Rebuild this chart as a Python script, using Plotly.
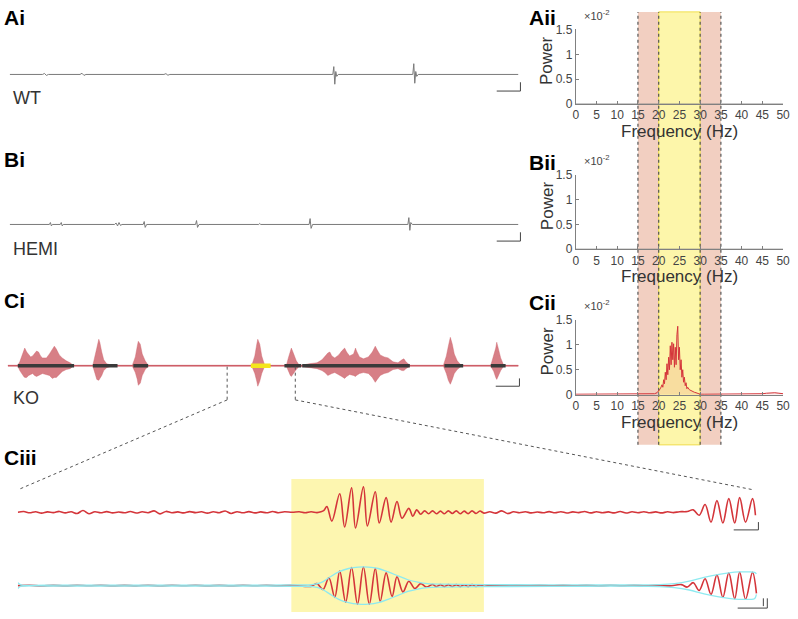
import plotly.graph_objects as go

# ---- data ----
# long recordings (time in s, amplitude in arbitrary units)
wt_t = [1, 7.6, 8.0, 8.4, 8.8, 15.2, 15.6, 16.0, 16.4, 32.2, 32.6, 33.0, 33.4,
        66.4, 66.6, 66.8, 67.0, 67.2, 67.5, 82.6, 82.8, 83.0, 83.2, 83.4, 83.7, 104]
wt_v = [0, 0, 1, -1, 0, 0, 1.2, -1, 0, 0, 0.8, -0.8, 0,
        0, 8, -10, 3, -2, 0, 0, 11, -9, 3, -2, 0, 0]

hemi_t = [1, 9.0, 9.2, 9.4, 9.6, 11.2, 11.4, 11.6, 11.8, 22.2, 22.5, 22.8, 23.1, 23.4, 23.7,
          28.0, 28.2, 28.4, 28.7, 38.6, 38.8, 39.0, 39.3, 51.4, 51.6, 51.8,
          61.6, 61.8, 62.0, 62.3, 81.6, 81.8, 82.0, 82.2, 82.5, 104]
hemi_v = [0, 0, 2, -1.5, 0, 0, 2, -1.5, 0, 0, 1.5, -1.5, 2, -1, 0,
          0, 3, -3, 0, 0, 4, -3, 0, 0, 1, 0,
          0, 6, -4, 0, 0, 7, -6, 2, 0, 0]

ko_env_t = [0.6, 2.6, 3.0, 3.4, 3.8, 4.0, 4.4, 4.8, 5.2, 5.6, 6.0, 6.4, 6.8, 7.2, 7.6, 8.4,
            9.0, 9.6, 10.0, 10.4, 11.0, 11.6, 12.4, 13.2, 13.8,
            17.8, 18.2, 18.6, 19.0, 19.2, 19.6, 20.0, 20.6, 21.6,
            25.8, 26.4, 26.8, 27.0, 27.4, 27.8, 28.4, 29.0,
            50.0, 50.6, 51.0, 51.2, 51.6, 52.0, 52.6,
            57.0, 57.4, 57.8, 58.0, 58.4, 59.0, 59.6,
            60.2, 61.6, 63.2, 64.2, 64.8, 65.4, 65.8, 66.2, 66.8, 67.6, 68.2, 68.8, 69.2, 69.8,
            70.6, 71.0, 71.2, 71.8, 72.6, 73.6, 74.4, 75.0, 75.4, 76.0, 76.8, 77.6, 78.6, 79.6,
            80.4, 80.8, 81.2, 82.0,
            88.8, 89.4, 89.8, 90.2, 90.6, 91.0, 91.6, 92.4,
            98.4, 99.0, 99.4, 99.6, 100.0, 100.4, 101.0, 104]
ko_env_top = [0.5, 0.5, 4, 10, 17, 18, 14, 11, 9, 10, 13, 15, 14, 10, 8, 8,
              12, 17, 20, 17, 11, 8, 5, 3, 0.5,
              0.5, 8, 18, 27, 24, 14, 6, 2, 0.5,
              0.5, 9, 20, 25, 22, 12, 5, 0.5,
              0.5, 10, 22, 27, 22, 10, 0.5,
              0.5, 8, 16, 18, 13, 5, 0.5,
              0.5, 2, 3, 6, 10, 13, 14, 10, 8, 11, 15, 18, 14, 10,
              12, 18, 15, 9, 7, 9, 14, 20, 16, 11, 9, 8, 4, 3,
              6, 7, 4, 0.5,
              0.5, 10, 20, 29, 22, 12, 5, 0.5,
              0.5, 10, 18, 24, 16, 8, 0.5, 0.5]
ko_env_bot = [-0.5, -0.5, -5, -8, -11, -12, -12, -10, -9, -8, -10, -11, -10, -9, -8, -9,
              -10, -13, -12, -12, -9, -6, -4, -3, -0.5,
              -0.5, -8, -14, -15, -13, -10, -5, -2, -0.5,
              -0.5, -7, -14, -20, -18, -10, -4, -0.5,
              -0.5, -8, -16, -21, -16, -8, -0.5,
              -0.5, -6, -10, -11, -8, -4, -0.5,
              -0.5, -2, -3, -5, -7, -10, -9, -8, -7, -9, -11, -13, -11, -9,
              -10, -11, -10, -8, -7, -8, -12, -17, -14, -10, -8, -7, -4, -3,
              -5, -5, -3, -0.5,
              -0.5, -8, -15, -19, -14, -8, -4, -0.5,
              -0.5, -6, -12, -14, -10, -5, -0.5, -0.5]
ko_bar_start = [2.6, 17.8, 26.0, 56.6, 60.2, 89.0, 98.4]
ko_bar_end = [14.0, 22.8, 29.0, 60.0, 82.0, 92.8, 101.4]
ko_sel_start, ko_sel_end = 49.8, 53.8
ko_zoom_start, ko_zoom_end = 45.0, 58.8

# power spectra (x10^-2)
freq_ticks = [0, 5, 10, 15, 20, 25, 30, 35, 40, 45, 50]
flat_freq = [0, 50]
flat_power = [0, 0]
cii_freq = [0, 2, 4, 6, 8, 10, 12, 14, 16, 18, 19, 19.6, 20.0, 20.4, 20.8,
            21.0, 21.2, 21.4, 21.6, 21.8, 22.0, 22.2, 22.4, 22.6, 22.8,
            23.0, 23.2, 23.4, 23.6, 23.8, 24.0, 24.2, 24.4, 24.6, 24.8,
            25.0, 25.2, 25.4, 25.6, 25.8, 26.0, 26.2, 26.4, 26.6, 26.8, 27.0,
            27.4, 27.8, 28.2, 28.6, 29.0, 29.5, 30, 31, 33, 36, 40, 43, 45, 46, 47, 48, 49, 50]
cii_power = [0.01, 0.01, 0.01, 0.01, 0.01, 0.01, 0.01, 0.01, 0.01, 0.01, 0.02, 0.04, 0.07, 0.12, 0.2,
             0.15, 0.3, 0.22, 0.45, 0.3, 0.62, 0.4, 0.75, 0.5, 0.98,
             0.6, 1.05, 0.7, 1.02, 0.55, 0.95, 0.6, 1.2, 1.37, 0.7,
             0.95, 0.5, 0.7, 0.35, 0.5, 0.25, 0.35, 0.18, 0.24, 0.12, 0.15,
             0.1, 0.08, 0.06, 0.05, 0.04, 0.02, 0.01, 0.01, 0.01, 0.01, 0.01, 0.01, 0.02, 0.03, 0.04, 0.04, 0.03, 0.02]
band_outer = [15, 35]
band_inner = [20, 30]

# expanded KO segment (time in ms)
raw_pre_t = list(range(0, 552, 12)) + [556]
raw_pre_v = [0, 0.8, -0.5, 0.6, -0.8, 0.4, -0.3, 0.9, -0.6, 0.5, -1.2, 1.8, -1.5, 0.6, -0.4, 0.7,
             -0.6, 0.3, -0.5, 0.8, -0.7, 0.5, -0.4, 1.5, -1.6, 0.9, -0.5, 0.4, -0.6, 0.7, -0.3,
             0.5, -0.8, 0.6, -0.4, 1.4, -1.2, 0.6, -0.5, 0.7, -0.6, 0.4, -0.5, 0.8, -0.4, 0.5, 0]
raw_burst_t = [570, 582, 594, 606, 614, 620, 626, 636, 652, 662, 676, 684, 700, 708, 724, 732,
               746, 756, 768, 778, 792, 800, 808, 816, 824, 832, 840, 848, 856, 864, 872, 880,
               888, 896, 904, 912, 920, 928, 936, 944]
raw_burst_v = [0.5, -0.5, 0.5, -0.3, 0.5, 2, 6, -9, 19, -15, 25, -16, 26, -14, 21, -11,
               15, -10, 11, -6, 4, -4, 2.5, -2, 1.5, -1.5, 1.5, -1.5, 1.2, -1.5, 1.5, -1.2,
               1.5, -1.5, 1.2, -1.4, 1.5, -1.2, 1.3, -0.8]
raw_mid_t = list(range(956, 1352, 12))
raw_mid_v = [0.5, -0.8, 1.5, -1.3, 0.6, -0.4, 0.5, -0.6, 0.3, -0.5, 0.7, -0.4, 0.6, -0.7, 0.4, -0.3,
             0.8, -0.6, 0.5, -0.5, 0.4, -0.6, 0.9, -0.7, 0.5, -0.4, 0.6, -0.5, 0.4, -0.6, 0.5, -0.3, 0.6]
raw_end_t = [1356, 1368, 1380, 1392, 1404, 1416, 1428, 1440, 1452, 1462, 1474, 1488, 1494]
raw_end_v = [0.8, 2.5, -3, 8, -10, 12, -11, 14, -11, 15, -10, 14, -3]

filt_pre_t = list(range(0, 600, 24))
filt_pre_v = [0, 0.3, -0.3, 0.2, -0.3, 0.3, -0.2, 0.3, -0.3, 0.2, -0.3, 0.4, -0.4, 0.3, -0.2,
              0.3, -0.3, 0.2, -0.3, 0.3, -0.2, 0.3, -0.3, 0.3, -0.5]
filt_burst_t = [594, 606, 618, 630, 642, 652, 664, 676, 688, 700, 712, 724, 734, 746, 758, 768,
                780, 792, 804, 816, 828, 840, 848, 856, 864, 872, 880, 888, 896, 904, 912, 920,
                928, 936, 944]
filt_burst_v = [-0.8, 2, -4, 8, -12, 15, -17, 18.5, -19, 19, -19, 17.5, -16, 13, -11, 9,
                -6.5, 4.5, -3, 2, -1.5, 1.2, -1, 1, -1, 1, -0.9, 1, -1, 0.9, -1, 1,
                -0.9, 0.8, -0.6]
filt_mid_t = list(range(960, 1344, 24))
filt_mid_v = [0.3, -0.3, 0.2, -0.3, 0.4, -0.3, 0.2, -0.2, 0.3, -0.4, 0.3, -0.2, 0.3, -0.3, 0.2, -0.3]
filt_end_t = [1344, 1356, 1368, 1380, 1392, 1404, 1416, 1428, 1440, 1452, 1462, 1474, 1488, 1496]
filt_end_v = [1, -1.5, 3, -5, 7, -9, 11, -12, 13, -13.5, 14, -14, 13.5, -8]

env_t = [0, 4, 8, 100, 300, 500, 560, 596, 614, 630, 650, 670, 690, 710, 730, 750, 770, 790,
         810, 830, 860, 944, 1100, 1300, 1330, 1360, 1390, 1420, 1440, 1460, 1480, 1492, 1496]
env_up = [3, 1.2, 0.6, 0.6, 0.6, 0.6, 0.7, 1, 3, 8, 14, 17.5, 19, 19, 17.5, 14, 10, 6,
          3.5, 2, 1.5, 1, 0.7, 1, 2, 4.5, 8.5, 11.5, 13, 14, 14, 13.5, 12]
env_lo = [-3, -1.2, -0.6, -0.6, -0.6, -0.6, -0.7, -1, -3, -8, -14, -17.5, -19, -19, -17.5, -14, -10, -6,
          -3.5, -2, -1.5, -1, -0.7, -1, -2, -4.5, -8.5, -11.5, -13, -14, -14, -13.5, -9]
ciii_sel_start, ciii_sel_end = 554, 944

# ---- layout helpers (pixel boxes -> paper) ----
W, H = 798, 619
FONT = "Liberation Sans, Arial, sans-serif"


def px_x(x):
    return x / W


def px_y(y):
    return 1 - y / H


def dom_x(a, b):
    return [a / W, b / W]


def dom_y(top, bottom):
    return [1 - bottom / H, 1 - top / H]


TR_X = (2, 522, 0, 104)       # px left, px right, t0, t1 for long traces
SP_X = (580, 790)
CI3_X = (15, 765, 0, 1500)


def tr_px(t):
    a, b, t0, t1 = TR_X
    return a + (t - t0) / (t1 - t0) * (b - a)


fig = go.Figure()

line_grey = dict(color="#7a7a7a", width=1)
fig.add_trace(go.Scatter(x=wt_t, y=wt_v, mode="lines", line=line_grey, xaxis="x", yaxis="y"))
fig.add_trace(go.Scatter(x=hemi_t, y=hemi_v, mode="lines", line=line_grey, xaxis="x2", yaxis="y2"))

# KO trace
fig.add_trace(go.Scatter(x=[0.6, 104], y=[0, 0], mode="lines",
                         line=dict(color="#d23c45", width=1), xaxis="x3", yaxis="y3"))
fig.add_trace(go.Scatter(x=ko_env_t + ko_env_t[::-1], y=ko_env_top + ko_env_bot[::-1],
                         fill="toself", fillcolor="rgba(205,95,104,0.8)", mode="lines",
                         line=dict(color="rgba(205,95,104,0.8)", width=0.5), xaxis="x3", yaxis="y3"))
bx, by = [], []
for s, e in zip(ko_bar_start, ko_bar_end):
    bx += [s, e, None]
    by += [0, 0, None]
fig.add_trace(go.Scatter(x=bx, y=by, mode="lines", line=dict(color="#3a3a3a", width=3.5),
                         xaxis="x3", yaxis="y3"))
fig.add_trace(go.Scatter(x=[ko_sel_start, ko_sel_end], y=[0, 0], mode="lines",
                         line=dict(color="#f4e61c", width=4.5), xaxis="x3", yaxis="y3"))

# spectra
fig.add_trace(go.Scatter(x=flat_freq, y=flat_power, mode="lines", line=dict(color="#888", width=1),
                         xaxis="x4", yaxis="y4"))
fig.add_trace(go.Scatter(x=flat_freq, y=flat_power, mode="lines", line=dict(color="#888", width=1),
                         xaxis="x5", yaxis="y5"))
fig.add_trace(go.Scatter(x=cii_freq, y=cii_power, mode="lines", fill="tozeroy",
                         fillcolor="rgba(225,110,110,0.18)", line=dict(color="#d4353a", width=1),
                         xaxis="x6", yaxis="y6"))

# expanded segment
fig.add_trace(go.Scatter(x=raw_pre_t + raw_burst_t + raw_mid_t + raw_end_t,
                         y=raw_pre_v + raw_burst_v + raw_mid_v + raw_end_v,
                         mode="lines", line=dict(color="#d4353a", width=1.6, shape="spline"),
                         xaxis="x7", yaxis="y7"))
fig.add_trace(go.Scatter(x=filt_pre_t + filt_burst_t + filt_mid_t + filt_end_t,
                         y=filt_pre_v + filt_burst_v + filt_mid_v + filt_end_v,
                         mode="lines", line=dict(color="#d4353a", width=1.6, shape="spline"),
                         xaxis="x8", yaxis="y8"))
for env in (env_up, env_lo):
    fig.add_trace(go.Scatter(x=env_t, y=env, mode="lines",
                             line=dict(color="#8eeaf0", width=1.3, shape="spline"),
                             xaxis="x8", yaxis="y8"))

hidden = dict(visible=False, fixedrange=True)
layout = dict(
    width=W, height=H, margin=dict(l=0, r=0, t=0, b=0),
    paper_bgcolor="white", plot_bgcolor="rgba(0,0,0,0)", showlegend=False,
    font=dict(family=FONT, color="#333"),
)
# long traces
for i, (top, bot) in enumerate([(39, 99), (192.5, 252.5), (337, 397)], start=1):
    s = "" if i == 1 else str(i)
    layout["xaxis" + s] = dict(hidden, domain=dom_x(TR_X[0], TR_X[1]), range=[TR_X[2], TR_X[3]],
                               anchor="y" + s)
    layout["yaxis" + s] = dict(hidden, domain=dom_y(top, bot), range=[-30, 30], anchor="x" + s)

# spectra axes
spec_rows = [(23, 99.3), (171.5, 247.8), (320, 396.7)]
for k, (top, bot) in enumerate(spec_rows):
    i = 4 + k
    layout["xaxis%d" % i] = dict(domain=dom_x(*SP_X), range=[0, 50], anchor="y%d" % i,
                                 tickvals=freq_ticks, ticks="inside", ticklen=3,
                                 tickcolor="#808080", showline=True, linecolor="#808080",
                                 showgrid=False, zeroline=False, fixedrange=True,
                                 tickfont=dict(size=12, color="#444", family=FONT))
    layout["yaxis%d" % i] = dict(domain=dom_y(top, bot), range=[0, 1.5], anchor="x%d" % i,
                                 tickvals=[0, 0.5, 1, 1.5], ticktext=["0", "0.5", "1", "1.5"],
                                 ticks="inside", ticklen=3, tickcolor="#808080",
                                 showline=True, linecolor="#808080", showgrid=False,
                                 zeroline=False, fixedrange=True,
                                 tickfont=dict(size=12, color="#444", family=FONT))

# expanded segment axes
layout["xaxis7"] = dict(hidden, domain=dom_x(CI3_X[0], CI3_X[1]), range=[CI3_X[2], CI3_X[3]], anchor="y7")
layout["yaxis7"] = dict(hidden, domain=dom_y(487, 547), range=[-30, 30], anchor="x7")
layout["xaxis8"] = dict(hidden, domain=dom_x(CI3_X[0], CI3_X[1]), range=[CI3_X[2], CI3_X[3]], anchor="y8")
layout["yaxis8"] = dict(hidden, domain=dom_y(567, 617), range=[-25, 25], anchor="x8")

shapes = []
band_y0, band_y1 = px_y(448), px_y(5)
shapes.append(dict(type="rect", xref="x6", yref="paper", x0=band_outer[0], x1=band_outer[1],
                   y0=band_y0, y1=band_y1, fillcolor="#f2cfc1", line=dict(width=0), layer="below"))
shapes.append(dict(type="rect", xref="x6", yref="paper", x0=band_inner[0], x1=band_inner[1],
                   y0=band_y0, y1=band_y1, fillcolor="#fdf6aa", line=dict(color="#f1e04a", width=1),
                   layer="below"))
for f in band_outer + band_inner:
    shapes.append(dict(type="line", xref="x6", yref="paper", x0=f, x1=f, y0=band_y0, y1=band_y1,
                       line=dict(color="#555", width=1.2, dash="dot"), layer="below"))
shapes.append(dict(type="rect", xref="x7", yref="paper", x0=ciii_sel_start, x1=ciii_sel_end,
                   y0=0, y1=px_y(483), fillcolor="#fdf6b0", line=dict(width=0), layer="below"))

# zoom guide lines
zl, zr = tr_px(ko_zoom_start), tr_px(ko_zoom_end)
dot = dict(color="#555", width=1, dash="dot")
for (xa, ya, xb, yb) in [(zl, 368, zl, 402), (zl, 402, 15, 494), (zr, 368, zr, 402), (zr, 402, 760, 494)]:
    shapes.append(dict(type="line", xref="paper", yref="paper", x0=px_x(xa), y0=px_y(ya),
                       x1=px_x(xb), y1=px_y(yb), line=dot))

# scale bars
sb = dict(color="#444", width=1)
for (x0, x1, ytop, ybot) in [(500, 524, 77, 86), (500, 524, 230.5, 239.5), (499, 523, 380, 388),
                              (740, 765, 527, 535)]:
    shapes.append(dict(type="line", xref="paper", yref="paper", x0=px_x(x0), x1=px_x(x1),
                       y0=px_y(ybot), y1=px_y(ybot), line=sb))
    shapes.append(dict(type="line", xref="paper", yref="paper", x0=px_x(x1), x1=px_x(x1),
                       y0=px_y(ytop), y1=px_y(ybot), line=sb))
shapes.append(dict(type="line", xref="paper", yref="paper", x0=px_x(744), x1=px_x(774),
                   y0=px_y(615), y1=px_y(615), line=sb))
shapes.append(dict(type="line", xref="paper", yref="paper", x0=px_x(774), x1=px_x(774),
                   y0=px_y(605), y1=px_y(615), line=sb))
shapes.append(dict(type="line", xref="paper", yref="paper", x0=px_x(770), x1=px_x(770),
                   y0=px_y(605), y1=px_y(613), line=sb))
layout["shapes"] = shapes

ann = []


def label(text, x, y, size, bold=False, color="#333", anchor="left", angle=0, vanchor="middle"):
    ann.append(dict(text="<b>%s</b>" % text if bold else text, x=px_x(x), y=px_y(y),
                    xref="paper", yref="paper", xanchor=anchor, yanchor=vanchor,
                    showarrow=False, textangle=angle, borderpad=0,
                    font=dict(size=size, color=color, family=FONT)))


for t, x, y in [("Ai", 0, -2), ("Bi", 0, 143), ("Ci", 0, 288), ("Ciii", 0, 448),
                ("Aii", 532, -2), ("Bii", 532, 146), ("Cii", 532, 290)]:
    label(t, x, y, 21, bold=True, color="black", vanchor="top")
label("WT", 9, 93, 18)
label("HEMI", 9, 248, 18)
label("KO", 9, 400, 18)
for top, bot in spec_rows:
    label("×10<sup>-2</sup>", 587, top - 23, 11, color="#444", vanchor="top")
    label("Power", 551, (top + bot) / 2 - 6, 17, anchor="center", angle=-90)
    label("Frequency (Hz)", 685, bot + 28, 17, anchor="center")
layout["annotations"] = ann

fig.update_layout(**layout)
# pin the plot to the window corner so the page margin does not shift it
pin = ("document.documentElement.style.margin='0';document.body.style.margin='0';"
       "var gd=document.getElementById('{plot_id}');gd.style.position='fixed';"
       "gd.style.left='0px';gd.style.top='0px';window.scrollTo(0,0);")
fig.write_html("out.html", config={"displayModeBar": False}, post_script=pin)
